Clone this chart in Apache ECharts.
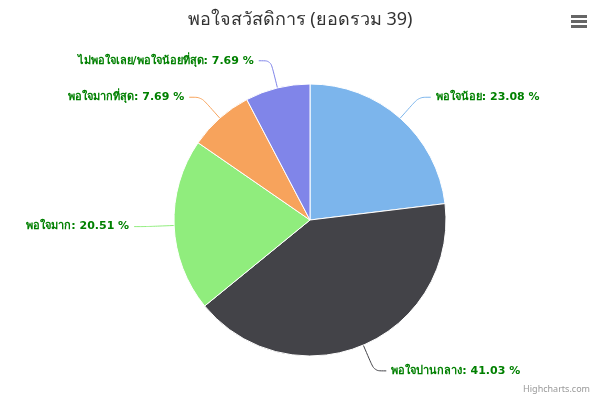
<!DOCTYPE html>
<html>
<head>
<meta charset="utf-8">
<script src="https://cdn.jsdelivr.net/npm/echarts@6/dist/echarts.min.js"></script>
<style>html,body{margin:0;padding:0;background:#fff}#c{width:600px;height:400px}</style>
</head>
<body>
<div id="c"></div>
<script>
const titleText = 'พอใจสวัสดิการ (ยอดรวม 39)';
const categories = ['พอใจน้อย', 'พอใจปานกลาง', 'พอใจมาก', 'พอใจมากที่สุด', 'ไม่พอใจเลย/พอใจน้อยที่สุด'];
const values = [9, 16, 8, 3, 3];
const colors = ['#7cb5ec', '#434348', '#90ed7d', '#f7a35c', '#8085e9'];

const chart = echarts.init(document.getElementById('c'));
chart.setOption({
  animation: false,
  title: {
    text: titleText,
    left: 'center',
    top: 6,
    textStyle: {fontSize: 18, fontWeight: 'normal', color: '#333333', fontFamily: 'Noto Sans, sans-serif'}
  },
  graphic: [
    {type: 'rect', shape: {x: 571, y: 15, width: 16, height: 3}, style: {fill: '#666'}},
    {type: 'rect', shape: {x: 571, y: 20, width: 16, height: 3}, style: {fill: '#666'}},
    {type: 'rect', shape: {x: 571, y: 25, width: 16, height: 3}, style: {fill: '#666'}},
    {type: 'text', right: 10, bottom: 6, style: {text: 'Highcharts.com', fill: '#999999', fontSize: 9, fontFamily: 'Noto Sans, sans-serif'}}
  ],
  series: [{
    type: 'pie',
    center: [310, 220],
    radius: [0, 136],
    startAngle: 90,
    clockwise: true,
    data: categories.map((n, i) => ({name: n, value: values[i], itemStyle: {color: colors[i]}})),
    itemStyle: {borderColor: '#ffffff', borderWidth: 1},
    label: {
      show: true,
      formatter: '{b}: {d} %',
      color: '#008000',
      fontWeight: 'bold',
      fontSize: 11,
      fontFamily: 'DejaVu Sans, sans-serif'
    },
    labelLine: {show: true, length: 28, length2: 12, smooth: 0.3, lineStyle: {width: 1}},
    emphasis: {disabled: true}
  }]
});
</script>
</body>
</html>
